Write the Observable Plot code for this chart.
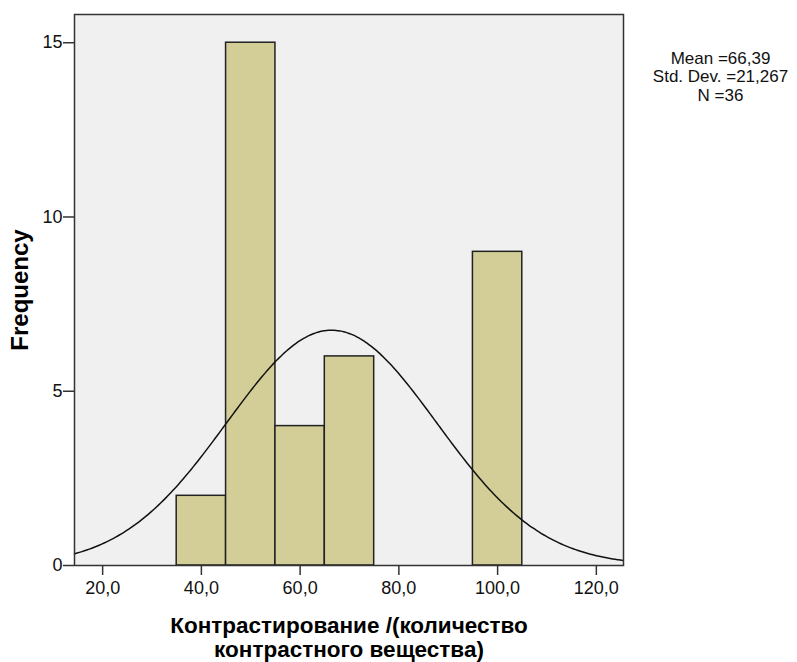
<!DOCTYPE html>
<html><head><meta charset="utf-8">
<script src="https://cdn.jsdelivr.net/npm/d3@7"></script>
<script src="https://cdn.jsdelivr.net/npm/@observablehq/plot@0.6"></script>
<style>body{margin:0;background:#fff;font-family:"Liberation Sans",Arial,sans-serif}</style>
</head><body><div id="chart"></div>
<script>
const binStart = [35, 45, 55, 65, 95];
const binEnd   = [45, 55, 65, 75, 105];
const counts   = [2, 15, 4, 6, 9];
const xTicks = [20, 40, 60, 80, 100, 120];
const yTicks = [0, 5, 10, 15];
const meanVal = 66.39, sdVal = 21.267, nVal = 36, binWidth = 10;
const statsText = ["Mean =66,39", "Std. Dev. =21,267", "N =36"];
const xTitle = ["Контрастирование /(количество", "контрастного вещества)"];
const yTitle = "Frequency";

const bins = binStart.map((s, i) => ({x1: s, x2: binEnd[i], y: counts[i]}));
const xDom = [14.3, 125.5];
const curve = d3.range(xDom[0], xDom[1] + 0.01, 0.5).map(x => ({
  x, y: nVal * binWidth * Math.exp(-0.5 * ((x - meanVal) / sdVal) ** 2) / (sdVal * Math.sqrt(2 * Math.PI))
}));
const fmt = v => d3.format(".1f")(v).replace(".", ",");

const statsMarks = statsText.map((t, i) => Plot.text([t], {frameAnchor: "top-right", dx: 97, dy: 44 + i * 18.5, text: d => d, textAnchor: "middle", lineAnchor: "middle", fontSize: 17, fill: "#111"}));
const titleMarks = xTitle.map((t, i) => Plot.text([t], {frameAnchor: "bottom", dy: 60 + i * 24, text: d => d, textAnchor: "middle", lineAnchor: "middle", fontSize: 22.5, fontWeight: "bold", fill: "#000"}));

const chart = Plot.plot({
  width: 797, height: 662,
  marginLeft: 74, marginTop: 14, marginRight: 174, marginBottom: 97,
  style: {fontFamily: '"Liberation Sans", Arial, sans-serif', fontSize: "18px", color: "#111", background: "#fff"},
  x: {domain: xDom, axis: null},
  y: {domain: [0, 15.81], axis: null},
  marks: [
    Plot.frame({fill: "#f0f0f0", stroke: null}),
    Plot.rectY(bins, {x1: "x1", x2: "x2", y: "y", fill: "#d3ce97", stroke: "#222", strokeWidth: 1.5}),
    Plot.line(curve, {x: "x", y: "y", stroke: "#111", strokeWidth: 1.5, curve: "basis"}),
    Plot.frame({stroke: "#333", strokeWidth: 1.5}),
    Plot.axisX(xTicks, {tickSize: 10, tickFormat: fmt, tickPadding: 6, stroke: "#333", strokeWidth: 1.5, fontSize: 18, label: null}),
    Plot.axisY(yTicks, {tickSize: 11, tickFormat: d => String(d), tickPadding: 1, stroke: "#333", strokeWidth: 1.5, fontSize: 18, label: null}),
    ...statsMarks,
    ...titleMarks,
    Plot.text([yTitle], {frameAnchor: "left", dx: -54, text: d => d, rotate: -90, textAnchor: "middle", lineAnchor: "middle", fontSize: 24, fontWeight: "bold", fill: "#000"})
  ]
});
document.getElementById("chart").appendChild(chart);
</script></body></html>
